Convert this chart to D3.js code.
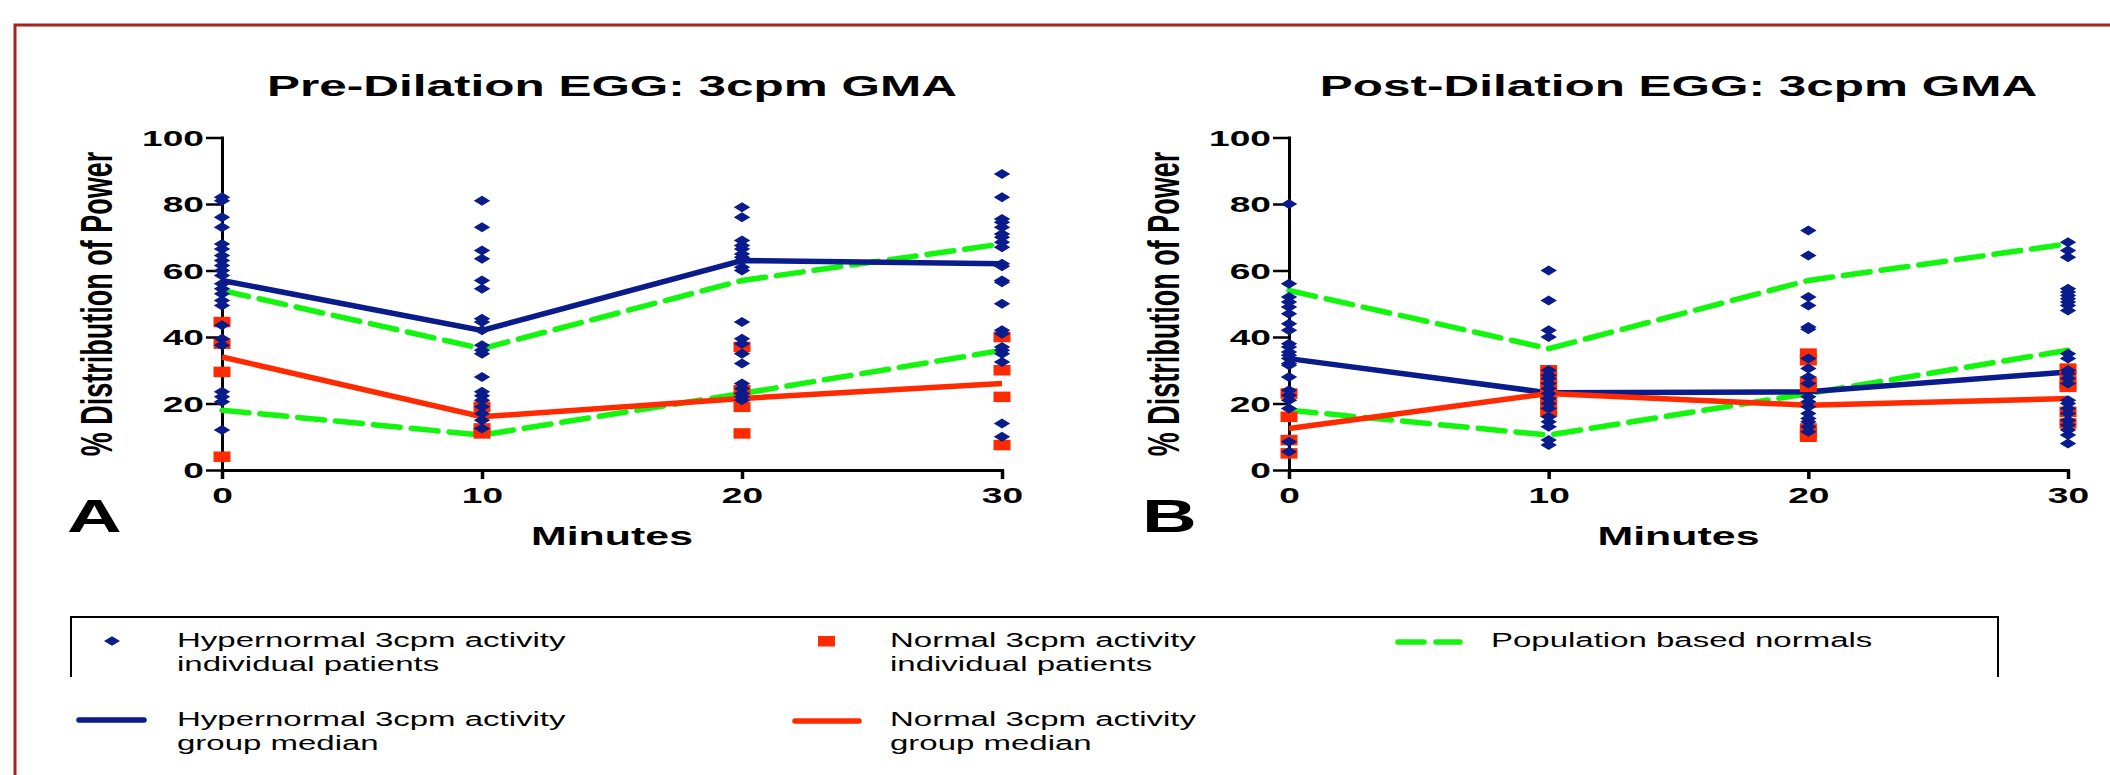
<!DOCTYPE html>
<html>
<head>
<meta charset="utf-8">
<script src="https://cdn.jsdelivr.net/npm/d3@7"></script>
<style>
body { margin: 0; background: #fff; }
text { font-family: "Liberation Sans", Arial, sans-serif; }
</style>
</head>
<body>
<svg id="fig" width="2110" height="775"></svg>
<script>
// values
var minutes = [0, 10, 20, 30];
var xTicks = [0, 10, 20, 30];
var yTicks = [0, 20, 40, 60, 80, 100];

var preHyper = [
  [82, 81, 76, 73, 68, 66.5, 64.5, 63, 61.5, 60, 58.5, 56, 54.5, 53, 51, 49.5, 43.5, 39.5, 37.5, 23.5, 22, 20.5, 12],
  [81, 73, 66, 63.5, 57, 54.5, 45.5, 44.5, 42, 37.5, 36, 35, 28, 23.5, 22.3, 21, 19, 17, 15, 12.5],
  [79, 76, 69, 67.5, 66.5, 65, 64, 63, 61, 60, 44.5, 39.5, 38, 35, 32, 26, 24.5, 23, 22, 21],
  [89, 82, 75.5, 74.5, 73, 71, 70, 68.5, 67, 62, 61.3, 57, 56.5, 50, 42, 41, 37, 36, 35, 32.5, 14, 10]
];
var preNormal = [[44.5, 38, 29.5, 4], [19, 12.5, 11], [37, 24, 19, 11], [40, 30, 22, 7.5]];
var preHyperMedian = [57, 42, 63, 62];
var preNormalMedian = [34, 16, 21.5, 26];

var postHyper = [
  [80, 56, 52, 50.5, 49, 47, 44, 42, 38, 37, 35.5, 34.5, 33.5, 32, 31.5, 28, 24, 22.5, 21, 18.5, 8.5, 5.5],
  [60, 51, 42, 40, 30, 28.5, 27.5, 26, 24.5, 23, 21.5, 20, 18.5, 16, 14.5, 13, 9, 7.5],
  [72, 64.5, 52, 49.5, 43, 42.3, 33.5, 30.5, 28, 26, 22, 20.5, 19, 17, 15.5, 14.5, 13, 11.5],
  [68.5, 66, 64, 54.5, 53.5, 52.5, 51.5, 50.5, 49.5, 48, 35, 33.5, 30, 29, 27.5, 26, 21, 20, 18.5, 17, 15, 13.5, 12, 10.5, 8]
];
var postNormal = [[23, 16, 9, 5], [30, 27, 25, 23, 21.5, 19.5, 17.5], [35, 33, 26.5, 25, 12.5, 11, 10], [30.5, 28.5, 26, 25, 17.5, 14]];
var postHyperMedian = [33.5, 23.2, 23.5, 29.5];
var postNormalMedian = [12.5, 23, 19.5, 21.5];

var popUpper = [54, 36.5, 57, 68];
var popLower = [18, 10.5, 23, 36];

var legendLabels = [
  ["Hypernormal 3cpm activity", "individual patients"],
  ["Normal 3cpm activity", "individual patients"],
  ["Population based normals"],
  ["Hypernormal 3cpm activity", "group median"],
  ["Normal 3cpm activity", "group median"]
];

var BLUE = "#0a1c8c", RED = "#ff2a00", GREEN = "#12f50c";
var SX = 1.65; // the original figure is stretched sideways

var svg = d3.select("#fig");

function stext(g, x, y, str, size, weight, anchor) {
  return g.append("text")
    .attr("transform", "translate(" + x + "," + y + ") scale(" + SX + ",1)")
    .attr("text-anchor", anchor || "start")
    .style("font-size", size + "px")
    .style("font-weight", weight || "normal")
    .text(str);
}

function diamond(g, cx, cy, w, h) {
  g.append("path")
    .attr("d", "M" + cx + "," + (cy - h / 2) + "L" + (cx + w / 2) + "," + cy + "L" + cx + "," + (cy + h / 2) + "L" + (cx - w / 2) + "," + cy + "Z")
    .attr("fill", BLUE);
}

// red frame
svg.append("path").attr("d", "M15,775V25H2110")
  .attr("fill", "none").attr("stroke", "#a3241c").attr("stroke-width", 3);

var panels = [
  {title: "Pre-Dilation EGG: 3cpm GMA", letter: "A", left: 222, right: 1002, letterX: 67,
   hyper: preHyper, normal: preNormal, hyperMed: preHyperMedian, normMed: preNormalMedian},
  {title: "Post-Dilation EGG: 3cpm GMA", letter: "B", left: 1289, right: 2068, letterX: 1142,
   hyper: postHyper, normal: postNormal, hyperMed: postHyperMedian, normMed: postNormalMedian}
];

panels.forEach(function (p) {
  var x = d3.scaleLinear().domain([0, 30]).range([p.left, p.right]);
  var y = d3.scaleLinear().domain([0, 100]).range([470, 137.5]);
  var mid = (p.left + p.right) / 2;
  var g = svg.append("g");

  // axes
  var ya = g.append("g").attr("transform", "translate(" + p.left + ",0)")
    .call(d3.axisLeft(y).tickValues(yTicks).tickSize(16).tickSizeOuter(0));
  var xa = g.append("g").attr("transform", "translate(0,470)")
    .call(d3.axisBottom(x).tickValues(xTicks).tickSize(9).tickSizeOuter(0));
  [ya, xa].forEach(function (a) {
    a.attr("font-family", null).attr("font-size", null);
    a.select(".domain").attr("stroke-width", 3).attr("stroke-linecap", "square");
  });
  ya.selectAll(".tick line").attr("stroke-width", 2.5);
  xa.selectAll(".tick line").attr("stroke-width", 3.5);
  ya.selectAll(".tick text").attr("x", null).attr("dy", null)
    .attr("transform", "translate(-18,0) scale(" + SX + ",1)")
    .attr("dominant-baseline", "central")
    .style("font-size", "22.5px").style("font-weight", "bold");
  xa.selectAll(".tick text").attr("y", null).attr("dy", null)
    .attr("transform", "translate(0,25) scale(" + SX + ",1)")
    .attr("dominant-baseline", "central")
    .style("font-size", "22.5px").style("font-weight", "bold");

  // lines
  var line = d3.line().x(function (d, i) { return x(minutes[i]); }).y(function (d) { return y(d); });
  [popUpper, popLower].forEach(function (s) {
    g.append("path").attr("d", line(s)).attr("fill", "none").attr("stroke", GREEN)
      .attr("stroke-width", 5.5).attr("stroke-dasharray", "27,11").attr("stroke-linecap", "round");
  });
  g.append("path").attr("d", line(p.hyperMed)).attr("fill", "none").attr("stroke", BLUE).attr("stroke-width", 5.5);
  g.append("path").attr("d", line(p.normMed)).attr("fill", "none").attr("stroke", RED).attr("stroke-width", 5.5);

  // individual patients
  p.normal.forEach(function (col, i) {
    col.forEach(function (v) {
      g.append("rect").attr("x", x(minutes[i]) - 8.5).attr("y", y(v) - 5.25)
        .attr("width", 17).attr("height", 10.5).attr("fill", RED);
    });
  });
  p.hyper.forEach(function (col, i) {
    col.forEach(function (v) { diamond(g, x(minutes[i]), y(v), 16.5, 10); });
  });

  // texts
  stext(g, mid, 96, p.title, 30, "bold", "middle");
  stext(g, mid, 545, "Minutes", 26, "bold", "middle");
  stext(g, p.letterX, 532, p.letter, 46, "bold", "start");
  g.append("text")
    .attr("transform", "translate(" + (p.left - 125) + ",304) scale(" + SX + ",1) rotate(-90)")
    .attr("text-anchor", "middle").attr("dominant-baseline", "central")
    .style("font-size", "27px").style("font-weight", "bold")
    .text("% Distribution of Power");
});

// legend
var lg = svg.append("g");
lg.append("path").attr("d", "M71,677V617H1998V677").attr("fill", "none").attr("stroke", "#000").attr("stroke-width", 2);

diamond(lg, 112, 641, 16, 9.5);
lg.append("rect").attr("x", 818).attr("y", 636).attr("width", 17).attr("height", 10.5).attr("fill", RED);
lg.append("line").attr("x1", 1398).attr("x2", 1460).attr("y1", 642).attr("y2", 642)
  .attr("stroke", GREEN).attr("stroke-width", 5.5).attr("stroke-dasharray", "26,12").attr("stroke-linecap", "round");
lg.append("line").attr("x1", 79).attr("x2", 144).attr("y1", 720).attr("y2", 720)
  .attr("stroke", BLUE).attr("stroke-width", 5.5).attr("stroke-linecap", "round");
lg.append("line").attr("x1", 795).attr("x2", 859).attr("y1", 721).attr("y2", 721)
  .attr("stroke", RED).attr("stroke-width", 5.5).attr("stroke-linecap", "round");

var legendPos = [[177, 640], [890, 640], [1491, 640], [177, 719], [890, 719]];
legendLabels.forEach(function (lines, k) {
  lines.forEach(function (t, j) {
    stext(lg, legendPos[k][0], legendPos[k][1] + j * 24.5, t, 20, "normal", "start")
      .attr("dominant-baseline", "central");
  });
});
</script>
</body>
</html>
